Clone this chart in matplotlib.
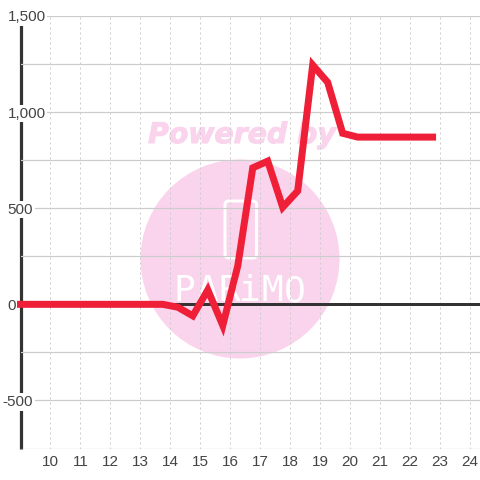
import matplotlib
matplotlib.use('Agg')
import matplotlib.pyplot as plt
import matplotlib.patheffects as pe
from matplotlib.patches import Circle, FancyBboxPatch
from matplotlib.transforms import ScaledTranslation

hours  = [9, 9.25, 9.75, 10.25, 10.75, 11.25, 11.75, 12.25, 12.75, 13.25, 13.75, 14.25, 14.75,
          15.25, 15.75, 16.25, 16.75, 17.25, 17.75, 18.25, 18.75, 19.25, 19.75, 20.25,
          20.75, 21.25, 21.75, 22.25, 22.75]
values = [0, 0, 0, 0, 0, 0, 0, 0, 0, 0, 0, -15, -60,
          75, -110, 200, 710, 745, 505, 590, 1245, 1155, 890, 870,
          870, 870, 870, 870, 870]

yticks  = [-750, -500, -250, 0, 250, 500, 750, 1000, 1250, 1500]
ylabels = ['', '-500', '', '0', '', '500', '', '1,000', '', '1,500']
xticks  = list(range(10, 25))
logo_letters = ['P', 'A', 'R', 'i', 'M', 'O']
logo_x       = [184, 207, 229, 250, 272, 295]

red   = '#ee1f37'
dark  = '#333333'
gridc = '#cccccc'
pink  = '#fad4ec'
px    = 0.72

plt.rcParams['font.family'] = ['Liberation Sans', 'DejaVu Sans']

fig = plt.figure(figsize=(4.8, 4.8), dpi=100, facecolor='white')
ax = fig.add_axes([20.5/480, 31.5/480, 459.5/480, 432.5/480])
ax.patch.set_visible(False)

# watermark sits behind the axes
fig.add_artist(Circle((240/480, 221/480), 99.5/480, transform=fig.transFigure,
                      facecolor=pink, edgecolor='none', zorder=-3))
fig.add_artist(FancyBboxPatch((225/480, 222/480), 31.5/480, 57/480, transform=fig.transFigure,
                              boxstyle='round,pad=0,rounding_size=0.008', facecolor='none',
                              edgecolor='white', linewidth=3*px, zorder=-2))
powered = fig.text(242/480, 345/480, 'Powered by', family='DejaVu Sans', fontsize=20.4,
                   fontweight='bold', fontstyle='italic', color=pink, ha='center', va='center',
                   zorder=-2)
powered.set_path_effects([pe.withStroke(linewidth=0.8, foreground=pink)])
for ch, lx in zip(logo_letters, logo_x):
    fig.text(lx/480, 189/480, ch, family='DejaVu Sans Mono', fontsize=26, color='white',
             ha='center', va='center', zorder=-2)

ax.set_xlim(9, 24.333)
ax.set_ylim(-750, 1500)
ax.set_xticks(xticks)
ax.set_yticks(yticks)
ax.set_yticklabels(ylabels)
ax.set_axisbelow(True)

ax.grid(axis='y', color=gridc, linewidth=1.2*px, linestyle='-')
ax.grid(axis='x', color=gridc, linewidth=px, linestyle=(0, (2, 3)))

ax.tick_params(axis='both', length=0, labelsize=11, labelcolor='#444444')
ax.tick_params(axis='x', pad=5)
ax.tick_params(axis='y', pad=9.4)

for lab, val in zip(ax.get_yticklabels(), ylabels):
    lab.set_ha('left')
    if val:
        lab.set_bbox(dict(facecolor='white', edgecolor='none', pad=1.2))
    if val == '-500':
        lab.set_transform(lab.get_transform() + ScaledTranslation(-5/100, 0, fig.dpi_scale_trans))

for side in ['top', 'right', 'bottom']:
    ax.spines[side].set_visible(False)
ax.spines['left'].set_color(dark)
ax.spines['left'].set_linewidth(3.2*px)
ax.spines['left'].set_capstyle('butt')
ax.spines['left'].set_zorder(0.4)

ax.axhline(0, color=dark, linewidth=3*px, zorder=0.6)
ax.plot(hours, values, color=red, linewidth=7*px, solid_capstyle='projecting',
        solid_joinstyle='miter', clip_on=False, zorder=3)

fig.savefig('out.png', dpi=100)
